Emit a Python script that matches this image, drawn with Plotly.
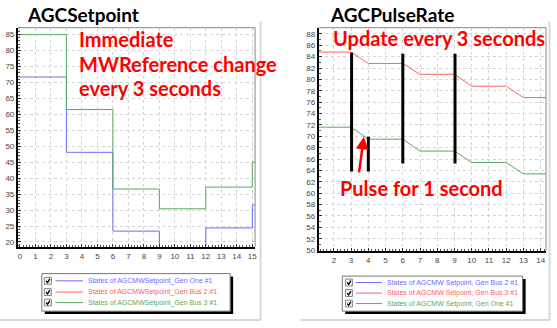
import plotly.graph_objects as go

W, H = 557, 328

BLUE = "#6a6aff"
RED = "#ff6060"
GREEN = "#5aaa5a"

# --- AGCSetpoint panel (step changes every 3 s) ---
sp_time = [0, 3, 6, 9, 12, 15, 16]
sp_gen_one = [71.7, 48.1, 23.4, 15.0, 24.4, 31.6, 31.6]
sp_gen_bus3 = [85.0, 61.5, 36.6, 30.4, 37.2, 45.0, 45.0]

# --- AGCPulseRate panel (ramped changes, 1 s pulses) ---
pr_time = [1, 3, 4, 6, 7, 9, 10, 12, 13, 15]
pr_gen_bus3 = [84.8, 84.8, 82.8, 82.8, 80.9, 80.9, 78.8, 78.8, 76.8, 76.8]
pr_gen_one = [71.6, 71.6, 69.5, 69.5, 67.4, 67.4, 65.4, 65.4, 63.4, 63.4]

left_ticks_x = list(range(0, 16))
left_ticks_y = list(range(20, 90, 5))
right_ticks_x = list(range(2, 15))
right_ticks_y = list(range(50, 90, 2))

left_legend = ["States of AGCMWSetpoint_Gen One #1",
               "States of AGCMWSetpoint_Gen Bus 2 #1",
               "States of AGCMWSetpoint_Gen Bus 3 #1"]
left_legend_colors = [BLUE, RED, GREEN]
right_legend = ["States of AGCMW Setpoint, Gen Bus 2 #1",
                "States of AGCMW Setpoint, Gen Bus 3 #1",
                "States of AGCMW Setpoint, Gen One #1"]
right_legend_colors = [BLUE, RED, GREEN]


def px(x):
    return x / W


def py(y):
    return 1 - y / H


fig = go.Figure()
fig.add_trace(go.Scatter(x=sp_time, y=sp_gen_one, mode="lines", line=dict(color=BLUE, width=1, shape="hv"),
                         xaxis="x", yaxis="y", showlegend=False))
fig.add_trace(go.Scatter(x=sp_time, y=sp_gen_bus3, mode="lines", line=dict(color=GREEN, width=1, shape="hv"),
                         xaxis="x", yaxis="y", showlegend=False))
fig.add_trace(go.Scatter(x=pr_time, y=pr_gen_bus3, mode="lines", line=dict(color=RED, width=1),
                         xaxis="x2", yaxis="y2", showlegend=False))
fig.add_trace(go.Scatter(x=pr_time, y=pr_gen_one, mode="lines", line=dict(color=GREEN, width=1),
                         xaxis="x2", yaxis="y2", showlegend=False))

tickfont = dict(family="Liberation Sans, Arial", size=8, color="#444")
common = dict(showline=True, linecolor="black", linewidth=2, ticks="inside", ticklen=3, tickcolor="#333",
              tickfont=tickfont, showgrid=True, gridcolor="#d4d4d4", griddash="dot", gridwidth=1,
              zeroline=False, fixedrange=True)

fig.update_layout(
    width=W, height=H, margin=dict(l=0, r=0, t=0, b=0),
    paper_bgcolor="white", plot_bgcolor="white", showlegend=False,
    xaxis=dict(domain=[px(18), px(256)], range=[-0.13, 15.18], tickvals=left_ticks_x, anchor="y",
               minor=dict(dtick=0.2, ticks="inside", ticklen=2, tickcolor="#555", showgrid=False), **common),
    yaxis=dict(domain=[py(250), py(28)], range=[18.44, 87.17], tickvals=left_ticks_y, anchor="x",
               minor=dict(dtick=1, ticks="inside", ticklen=2, tickcolor="#555", showgrid=False), **common),
    xaxis2=dict(domain=[px(320), px(548)], range=[1.13, 14.31], tickvals=right_ticks_x, anchor="y2",
                minor=dict(dtick=0.2, ticks="inside", ticklen=2, tickcolor="#555", showgrid=False), **common),
    yaxis2=dict(domain=[py(254), py(28)], range=[49.86, 89.09], tickvals=right_ticks_y, anchor="x2",
                minor=dict(dtick=1, ticks="inside", ticklen=2, tickcolor="#555", showgrid=False), **common),
)

shapes = []
# thin grey frame on the top/right of each plot area
for xr, yr in (("x domain", "y domain"), ("x2 domain", "y2 domain")):
    shapes.append(dict(type="line", xref=xr, yref=yr, x0=0, x1=1, y0=1, y1=1, line=dict(color="#888", width=1)))
    shapes.append(dict(type="line", xref=xr, yref=yr, x0=1, x1=1, y0=0, y1=1, line=dict(color="#888", width=1)))

# outer panel edges
panel = "#d9d9d9"
shapes += [
    dict(type="line", xref="paper", yref="paper", x0=px(261.5), x1=px(261.5), y0=py(22), y1=py(324), line=dict(color=panel, width=2)),
    dict(type="line", xref="paper", yref="paper", x0=px(0), x1=px(261.5), y0=py(324), y1=py(324), line=dict(color=panel, width=2)),
    dict(type="line", xref="paper", yref="paper", x0=px(551.5), x1=px(551.5), y0=py(22), y1=py(324), line=dict(color=panel, width=2)),
    dict(type="line", xref="paper", yref="paper", x0=px(301.5), x1=px(551.5), y0=py(324), y1=py(324), line=dict(color=panel, width=2)),
]

# pulse markers on the PulseRate panel
bars = [(3.03, 84.7, 63.8), (4.0, 69.9, 63.8), (6.0, 84.5, 65.2), (9.03, 84.5, 65.2)]
for bx, btop, bbot in bars:
    shapes.append(dict(type="line", xref="x2", yref="y2", x0=bx, x1=bx, y0=bbot, y1=btop,
                       line=dict(color="black", width=3)))

annotations = []


def add_legend(x0, y0, x1, y1, rows_y, cb_x, line_x0, line_x1, text_x, names, colors):
    # drop shadow then box
    shapes.append(dict(type="rect", xref="paper", yref="paper", x0=px(x0 + 3), x1=px(x1 + 3),
                       y0=py(y1 + 3), y1=py(y0 + 3), line=dict(width=0), fillcolor="black", layer="above"))
    shapes.append(dict(type="rect", xref="paper", yref="paper", x0=px(x0), x1=px(x1),
                       y0=py(y1), y1=py(y0), line=dict(color="#777", width=1), fillcolor="white", layer="above"))
    for ry, name, col in zip(rows_y, names, colors):
        shapes.append(dict(type="rect", xref="paper", yref="paper", x0=px(cb_x), x1=px(cb_x + 7),
                           y0=py(ry + 3.5), y1=py(ry - 3.5), line=dict(color="#888", width=1),
                           fillcolor="#eeeeee", layer="above"))
        shapes.append(dict(type="path", xref="paper", yref="paper", layer="above",
                           path=f"M {px(cb_x + 1.8)},{py(ry)} L {px(cb_x + 3.2)},{py(ry + 1.8)} L {px(cb_x + 5.5)},{py(ry - 2)}",
                           line=dict(color="black", width=1.3)))
        shapes.append(dict(type="line", xref="paper", yref="paper", x0=px(line_x0), x1=px(line_x1),
                           y0=py(ry), y1=py(ry), line=dict(color=col, width=1), layer="above"))
        annotations.append(dict(xref="paper", yref="paper", x=px(text_x), y=py(ry), xanchor="left",
                                yanchor="middle", text=name, showarrow=False,
                                font=dict(family="Liberation Sans, Arial", size=7, color=col)))


add_legend(42, 277, 231, 315, [284.3, 295.7, 306.3], 44.5, 55.7, 83.3, 86, left_legend, left_legend_colors)
add_legend(343.5, 279.5, 524.5, 315, [286, 296.7, 307.3], 346.7, 357.3, 383.3, 386, right_legend, right_legend_colors)

title_font = dict(family="Lato", size=19, color="black")
note_font = dict(family="Lato", size=20, color="#ff0000")


def text_at(x, y, s, font, xanchor="left"):
    annotations.append(dict(xref="paper", yref="paper", x=px(x), y=py(y), xanchor=xanchor, yanchor="middle",
                            text=f"<b>{s}</b>", showarrow=False, font=font))


text_at(25, 15, "AGCSetpoint", title_font)
text_at(329, 15, "AGCPulseRate", title_font)
text_at(77, 39, "Immediate", note_font)
text_at(77, 65, "MWReference change", note_font)
text_at(77, 89, "every 3 seconds", note_font)
text_at(332, 38, "Update every 3 seconds", note_font)
text_at(339, 190, "Pulse for 1 second", note_font)

# arrow pointing at the ramp during the pulse
annotations.append(dict(xref="x2", yref="y2", axref="x2", ayref="y2", x=3.74, y=69.9, ax=3.45, ay=63.4,
                        text="", showarrow=True, arrowhead=2, arrowsize=1, arrowwidth=2.5, arrowcolor="#ff0000"))

fig.update_layout(shapes=shapes, annotations=annotations)
fig.write_html("out.html")
